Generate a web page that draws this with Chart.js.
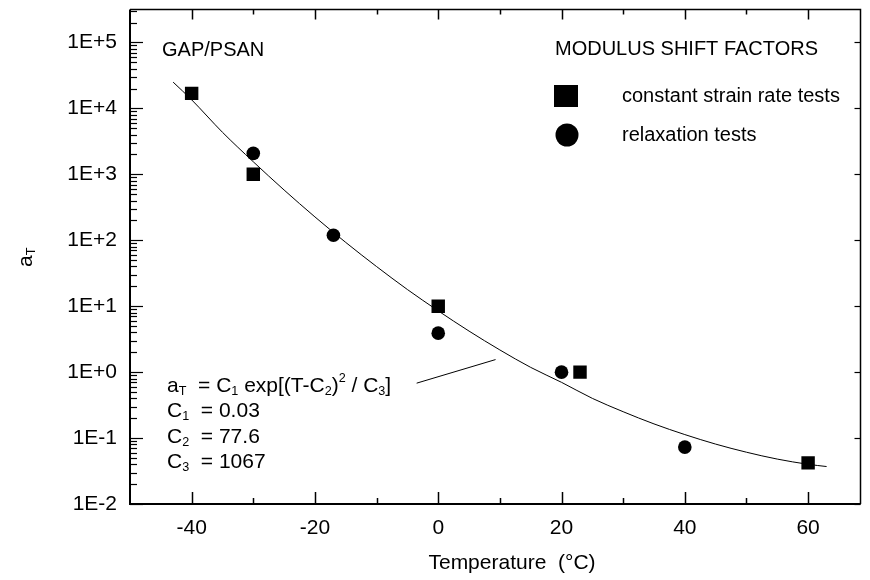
<!DOCTYPE html>
<html>
<head>
<meta charset="utf-8">
<script src="https://cdn.jsdelivr.net/npm/chart.js@4.4.1/dist/chart.umd.min.js"></script>
<style>
    html, body { margin: 0; padding: 0; background: #fff; }
    #wrap { width: 870px; height: 580px; }
</style>
</head>
<body>
<div id="wrap"><canvas id="chart" width="870" height="580"></canvas></div>
<script>
// Modulus shift factors, GAP/PSAN
const squareTemps = [-40, -30, 0, 23, 60];
const squareShift = [16900, 1000, 10, 1.0, 0.042];

const relaxTemps = [-30, -17, 0, 20, 40];
const relaxShift = [2080, 119, 3.9, 1.0, 0.073];

// fitted curve
const fitTemps = [-43, -40, -35, -30, -25, -20, -15, -10, -5, 0, 5, 10, 15, 20, 25, 30, 35, 40, 45, 50, 55, 60, 63];
const fitShift = [25000, 13500, 4340, 1550, 578, 226, 92.7, 39.9, 17.9, 8.5, 4.19, 2.17, 1.18, 0.70, 0.40, 0.251, 0.164, 0.113, 0.081, 0.061, 0.048, 0.040, 0.037];

const xTickValues = [-40, -20, 0, 20, 40, 60];
const yTickValues = [1e-2, 1e-1, 1e0, 1e1, 1e2, 1e3, 1e4, 1e5];
const yTickLabels = ['1E-2', '1E-1', '1E+0', '1E+1', '1E+2', '1E+3', '1E+4', '1E+5'];

const FONT = '"Liberation Sans", Arial, sans-serif';

function toPoints(xs, ys) {
    return xs.map((x, i) => ({ x: x, y: ys[i] }));
}

// draws text with sub/superscript pieces, left aligned, middle baseline
function drawRich(ctx, parts, x, y, size) {
    let cx = x;
    parts.forEach(p => {
        let fs = size, dy = 0;
        if (p.s === 'sub') { fs = size * 0.6; dy = size * 0.28; }
        if (p.s === 'sup') { fs = size * 0.6; dy = -size * 0.38; }
        ctx.font = fs + 'px ' + FONT;
        ctx.fillText(p.t, cx, y + dy);
        cx += ctx.measureText(p.t).width;
    });
    return cx;
}

// no extra padding from edge labels, the plot box is fixed
function noPad(scale) {
    scale.paddingLeft = 0;
    scale.paddingRight = 0;
    scale.paddingTop = 0;
    scale.paddingBottom = 0;
}

const decorPlugin = {
    id: 'decor',
    afterDraw(chart) {
        const ctx = chart.ctx;
        const area = chart.chartArea;
        const xs = chart.scales.x;
        const ys = chart.scales.y;
        ctx.save();
        ctx.strokeStyle = '#000';
        ctx.fillStyle = '#000';

        // frame
        ctx.lineWidth = 2;
        ctx.beginPath();
        ctx.moveTo(area.left, area.top);
        ctx.lineTo(area.left, area.bottom);
        ctx.lineTo(area.right, area.bottom);
        ctx.stroke();
        ctx.lineWidth = 1.5;
        ctx.beginPath();
        ctx.moveTo(area.left, area.top);
        ctx.lineTo(area.right, area.top);
        ctx.lineTo(area.right, area.bottom);
        ctx.stroke();

        // inward tick marks, x every 10
        ctx.lineWidth = 1.5;
        for (let t = -40; t <= 60; t += 10) {
            const px = Math.round(xs.getPixelForValue(t)) + 0.5;
            const major = t % 20 === 0;
            ctx.beginPath();
            ctx.moveTo(px, area.bottom);
            ctx.lineTo(px, area.bottom - (major ? 12 : 6));
            ctx.moveTo(px, area.top);
            ctx.lineTo(px, area.top + (major ? 10 : 5));
            ctx.stroke();
        }
        // y decades and log minor ticks
        ctx.lineWidth = 1.2;
        for (let k = -2; k <= 5; k++) {
            for (let m = 1; m <= 9; m++) {
                const v = m * Math.pow(10, k);
                if (v > ys.max) continue;
                const py = Math.round(ys.getPixelForValue(v)) + 0.5;
                ctx.beginPath();
                ctx.moveTo(area.left, py);
                ctx.lineTo(area.left + (m === 1 ? 13 : 7), py);
                ctx.stroke();
                if (m === 1) {
                    ctx.beginPath();
                    ctx.moveTo(area.right, py);
                    ctx.lineTo(area.right - 6, py);
                    ctx.stroke();
                }
            }
        }

        ctx.textBaseline = 'middle';
        ctx.textAlign = 'left';

        // texts inside the plot
        ctx.font = '20px ' + FONT;
        ctx.fillText('GAP/PSAN', 162, 50);
        ctx.fillText('MODULUS SHIFT FACTORS', 555, 49);
        ctx.fillText('constant strain rate tests', 622, 96);
        ctx.fillText('relaxation tests', 622, 135);

        // legend markers
        ctx.fillRect(554, 85, 24, 22);
        ctx.beginPath();
        ctx.arc(567, 135, 11.5, 0, Math.PI * 2);
        ctx.fill();

        // fit equation
        const fs = 21;
        drawRich(ctx, [{ t: 'a' }, { t: 'T', s: 'sub' }, { t: '  = C' }, { t: '1', s: 'sub' },
            { t: ' exp[(T-C' }, { t: '2', s: 'sub' }, { t: ')' }, { t: '2', s: 'sup' },
            { t: ' / C' }, { t: '3', s: 'sub' }, { t: ']' }], 167, 386, fs);
        drawRich(ctx, [{ t: 'C' }, { t: '1', s: 'sub' }, { t: '  = 0.03' }], 167, 411, fs);
        drawRich(ctx, [{ t: 'C' }, { t: '2', s: 'sub' }, { t: '  = 77.6' }], 167, 437, fs);
        drawRich(ctx, [{ t: 'C' }, { t: '3', s: 'sub' }, { t: '  = 1067' }], 167, 462, fs);

        // pointer from equation to curve
        ctx.lineWidth = 1;
        ctx.beginPath();
        ctx.moveTo(xs.getPixelForValue(-3.5), ys.getPixelForValue(0.68));
        ctx.lineTo(xs.getPixelForValue(9.3), ys.getPixelForValue(1.55));
        ctx.stroke();

        // axis titles
        ctx.textAlign = 'center';
        ctx.font = '21px ' + FONT;
        ctx.fillText('Temperature  (\u00B0C)', 512, 563);

        ctx.save();
        ctx.translate(26, 258);
        ctx.rotate(-Math.PI / 2);
        ctx.textAlign = 'left';
        drawRich(ctx, [{ t: 'a' }, { t: 'T', s: 'sub' }], -9, 0, 21);
        ctx.restore();

        ctx.restore();
    }
};

new Chart(document.getElementById('chart').getContext('2d'), {
    type: 'scatter',
    data: {
        datasets: [{
            label: 'constant strain rate tests',
            data: toPoints(squareTemps, squareShift),
            pointStyle: 'rect',
            pointRadius: 9.5,
            backgroundColor: '#000',
            borderColor: '#000',
            borderWidth: 0,
            order: 1
        }, {
            label: 'relaxation tests',
            data: toPoints(relaxTemps, relaxShift),
            pointStyle: 'circle',
            pointRadius: 6.8,
            backgroundColor: '#000',
            borderColor: '#000',
            borderWidth: 0,
            order: 1
        }, {
            label: 'fit',
            data: toPoints(fitTemps, fitShift),
            showLine: true,
            pointRadius: 0,
            borderColor: '#000',
            borderWidth: 1,
            cubicInterpolationMode: 'monotone',
            fill: false,
            order: 2
        }]
    },
    options: {
        responsive: false,
        animation: false,
        layout: { padding: { top: 9, right: 1, left: 0, bottom: 0 } },
        plugins: {
            legend: { display: false },
            tooltip: { enabled: false }
        },
        scales: {
            x: {
                type: 'linear',
                min: -50,
                max: 68.5,
                grid: { display: false, drawTicks: false },
                border: { display: false },
                afterBuildTicks: scale => {
                    scale.ticks = xTickValues.map(v => ({ value: v }));
                },
                afterFit: scale => { scale.height = 76; noPad(scale); },
                ticks: {
                    padding: 12,
                    color: '#000',
                    font: { family: FONT, size: 21 },
                    callback: value => String(value)
                }
            },
            y: {
                type: 'logarithmic',
                min: 0.01,
                max: 316000,
                grid: { display: false, drawTicks: false },
                border: { display: false },
                afterBuildTicks: scale => {
                    scale.ticks = yTickValues.map(v => ({ value: v }));
                },
                afterFit: scale => { scale.width = 130; noPad(scale); },
                ticks: {
                    padding: 13,
                    color: '#000',
                    font: { family: FONT, size: 21 },
                    callback: (value, index) => yTickLabels[index]
                }
            }
        }
    },
    plugins: [decorPlugin]
});
</script>
</body>
</html>
